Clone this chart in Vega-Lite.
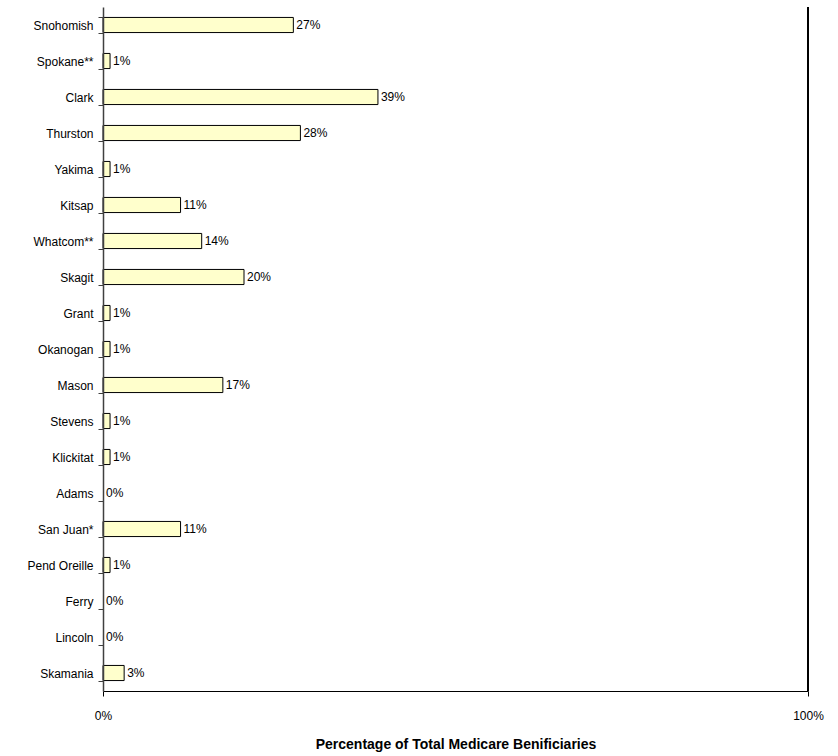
{
  "$schema": "https://vega.github.io/schema/vega-lite/v6.json",
  "width": 705,
  "height": 684,
  "autosize": {"type": "none"},
  "padding": {"left": 103, "top": 7, "right": 30, "bottom": 65},
  "background": "white",
  "config": {
    "font": "Liberation Sans",
    "view": {"stroke": null},
    "axis": {"labelFont": "Liberation Sans", "titleFont": "Liberation Sans"}
  },
  "data": {
    "values": [
      {"county": "Snohomish", "pct": 0.27},
      {"county": "Spokane**", "pct": 0.01},
      {"county": "Clark", "pct": 0.39},
      {"county": "Thurston", "pct": 0.28},
      {"county": "Yakima", "pct": 0.01},
      {"county": "Kitsap", "pct": 0.11},
      {"county": "Whatcom**", "pct": 0.14},
      {"county": "Skagit", "pct": 0.20},
      {"county": "Grant", "pct": 0.01},
      {"county": "Okanogan", "pct": 0.01},
      {"county": "Mason", "pct": 0.17},
      {"county": "Stevens", "pct": 0.01},
      {"county": "Klickitat", "pct": 0.01},
      {"county": "Adams", "pct": 0.0},
      {"county": "San Juan*", "pct": 0.11},
      {"county": "Pend Oreille", "pct": 0.01},
      {"county": "Ferry", "pct": 0.0},
      {"county": "Lincoln", "pct": 0.0},
      {"county": "Skamania", "pct": 0.03}
    ]
  },
  "layer": [
    {
      "mark": {"type": "bar", "fill": "#FFFFCC", "stroke": "black", "strokeWidth": 1},
      "encoding": {
        "y": {
          "field": "county",
          "type": "nominal",
          "sort": null,
          "scale": {"paddingInner": 0.58, "paddingOuter": 0.29},
          "axis": {
            "title": null,
            "grid": false,
            "labelFontSize": 12,
            "labelColor": "black",
            "tickSize": 5,
            "labelPadding": 5,
            "tickBand": "extent",
            "domainColor": "#404040",
            "domainWidth": 1.5,
            "tickColor": "#404040",
            "labelLimit": 200,
            "zindex": 1
          }
        },
        "x": {
          "field": "pct",
          "type": "quantitative",
          "scale": {"domain": [0, 1], "nice": false},
          "axis": {
            "values": [0, 1],
            "format": ".0%",
            "grid": false,
            "labelFlush": false,
            "title": "Percentage of Total Medicare Benificiaries",
            "titleFontSize": 14,
            "titleFontWeight": "bold",
            "titleColor": "black",
            "titlePadding": 16,
            "labelFontSize": 12,
            "labelColor": "black",
            "labelPadding": 14,
            "tickSize": 5,
            "domainColor": "black",
            "tickColor": "black",
            "zindex": 1
          }
        },
        "strokeOpacity": {"condition": {"test": "datum.pct <= 0", "value": 0}, "value": 1}
      }
    },
    {
      "mark": {"type": "text", "align": "left", "baseline": "middle", "dx": 3, "fontSize": 12, "color": "black"},
      "encoding": {
        "y": {"field": "county", "type": "nominal", "sort": null},
        "x": {"field": "pct", "type": "quantitative"},
        "text": {"field": "pct", "type": "quantitative", "format": ".0%"}
      }
    },
    {
      "mark": {"type": "rule", "color": "black", "strokeWidth": 1},
      "encoding": {"x": {"datum": 1}}
    }
  ]
}
